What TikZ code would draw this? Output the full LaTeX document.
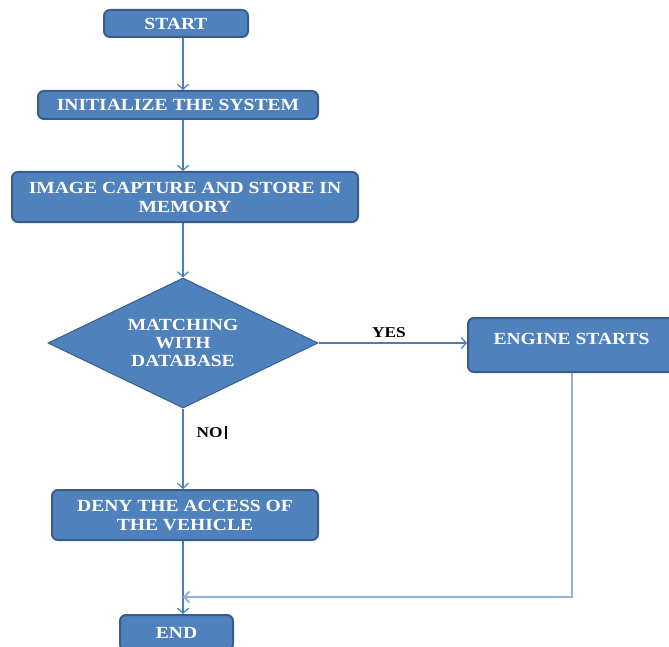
\documentclass[tikz,border=0pt]{standalone}
\usepackage{fontspec}
\setmainfont[FakeStretch=1.15]{Liberation Serif}
\usepackage{tikz}
\usetikzlibrary{shapes.geometric}
\usetikzlibrary{arrows.meta}
\definecolor{boxblue}{HTML}{4F81BD}
\definecolor{rimblue}{HTML}{385D8A}
\definecolor{lineblue}{HTML}{4A7EBB}
\definecolor{paleblue}{HTML}{95B3D7}
\tikzset{>={Straight Barb[length=5pt,width=11pt]}}
\tikzstyle{procnode}=[white,draw=rimblue,line width=2pt,shape=rectangle,rounded corners=6pt,fill=boxblue,font=\bfseries\fontsize{17}{19}\selectfont,align=center,inner sep=0pt]
\tikzstyle{decnode}=[white,draw=rimblue,line width=1pt,shape=diamond,aspect=2.08,fill=boxblue,font=\bfseries\fontsize{17}{18}\selectfont,align=center,inner sep=0pt,minimum width=270pt,minimum height=130pt]
\tikzstyle{flowaro}=[->,line width=1.2pt,color=lineblue]
\tikzstyle{backaro}=[->,line width=2pt,color=paleblue]
\tikzstyle{tag}=[black,font=\bfseries\fontsize{15}{17}\selectfont]

\begin{document}
\begin{tikzpicture}[x=1pt,y=-1pt]
	\useasboundingbox (0,0) rectangle (669,647);
	
	% Main column
	\node[procnode,minimum width=144pt,minimum height=27pt] (start) at (176,23.5) {START};
	\node[procnode,minimum width=280pt,minimum height=28pt] (init) at (178,105) {INITIALIZE THE SYSTEM};
	\node[procnode,minimum width=346pt,minimum height=50pt] (capture) at (185,197) {IMAGE CAPTURE AND STORE IN\\MEMORY};
	\node[decnode] (match) at (183,343) {MATCHING\\WITH\\DATABASE};
	\node[procnode,minimum width=266pt,minimum height=50pt] (deny) at (185,515) {DENY THE ACCESS OF\\THE VEHICLE};
	\node[procnode,minimum width=113pt,minimum height=35pt] (end) at (176.5,632.5) {END};
	
	% Yes branch
	\node[procnode,minimum width=207pt,inner ysep=16pt,text height=10pt,text depth=12pt] (engine) at (571.5,345) {ENGINE STARTS};
	\coordinate (merge) at (183,597);
	
	\draw[flowaro] (match.north |- start.south) -- (match.north |- init.north);
	\draw[flowaro] (match.north |- init.south) -- (match.north |- capture.north);
	\draw[flowaro] (match.north |- capture.south) -- (match.north);
	\draw[flowaro] (match.south) -- (match.south |- deny.north);
	\draw[flowaro] (match.south |- deny.south) -- (match.south |- end.north);
	\draw[flowaro] (match.east) -- (engine.west |- match.east);
	\draw[backaro] (engine.south) -- (engine.south |- merge) -- (merge);
	
	% Labels
	\node[tag] (yes) at (389,333) {YES};
	\node[tag] (no) at (212,432) {NO\,\rule[-1pt]{2.5pt}{13pt}};
	
\end{tikzpicture}
\end{document}
